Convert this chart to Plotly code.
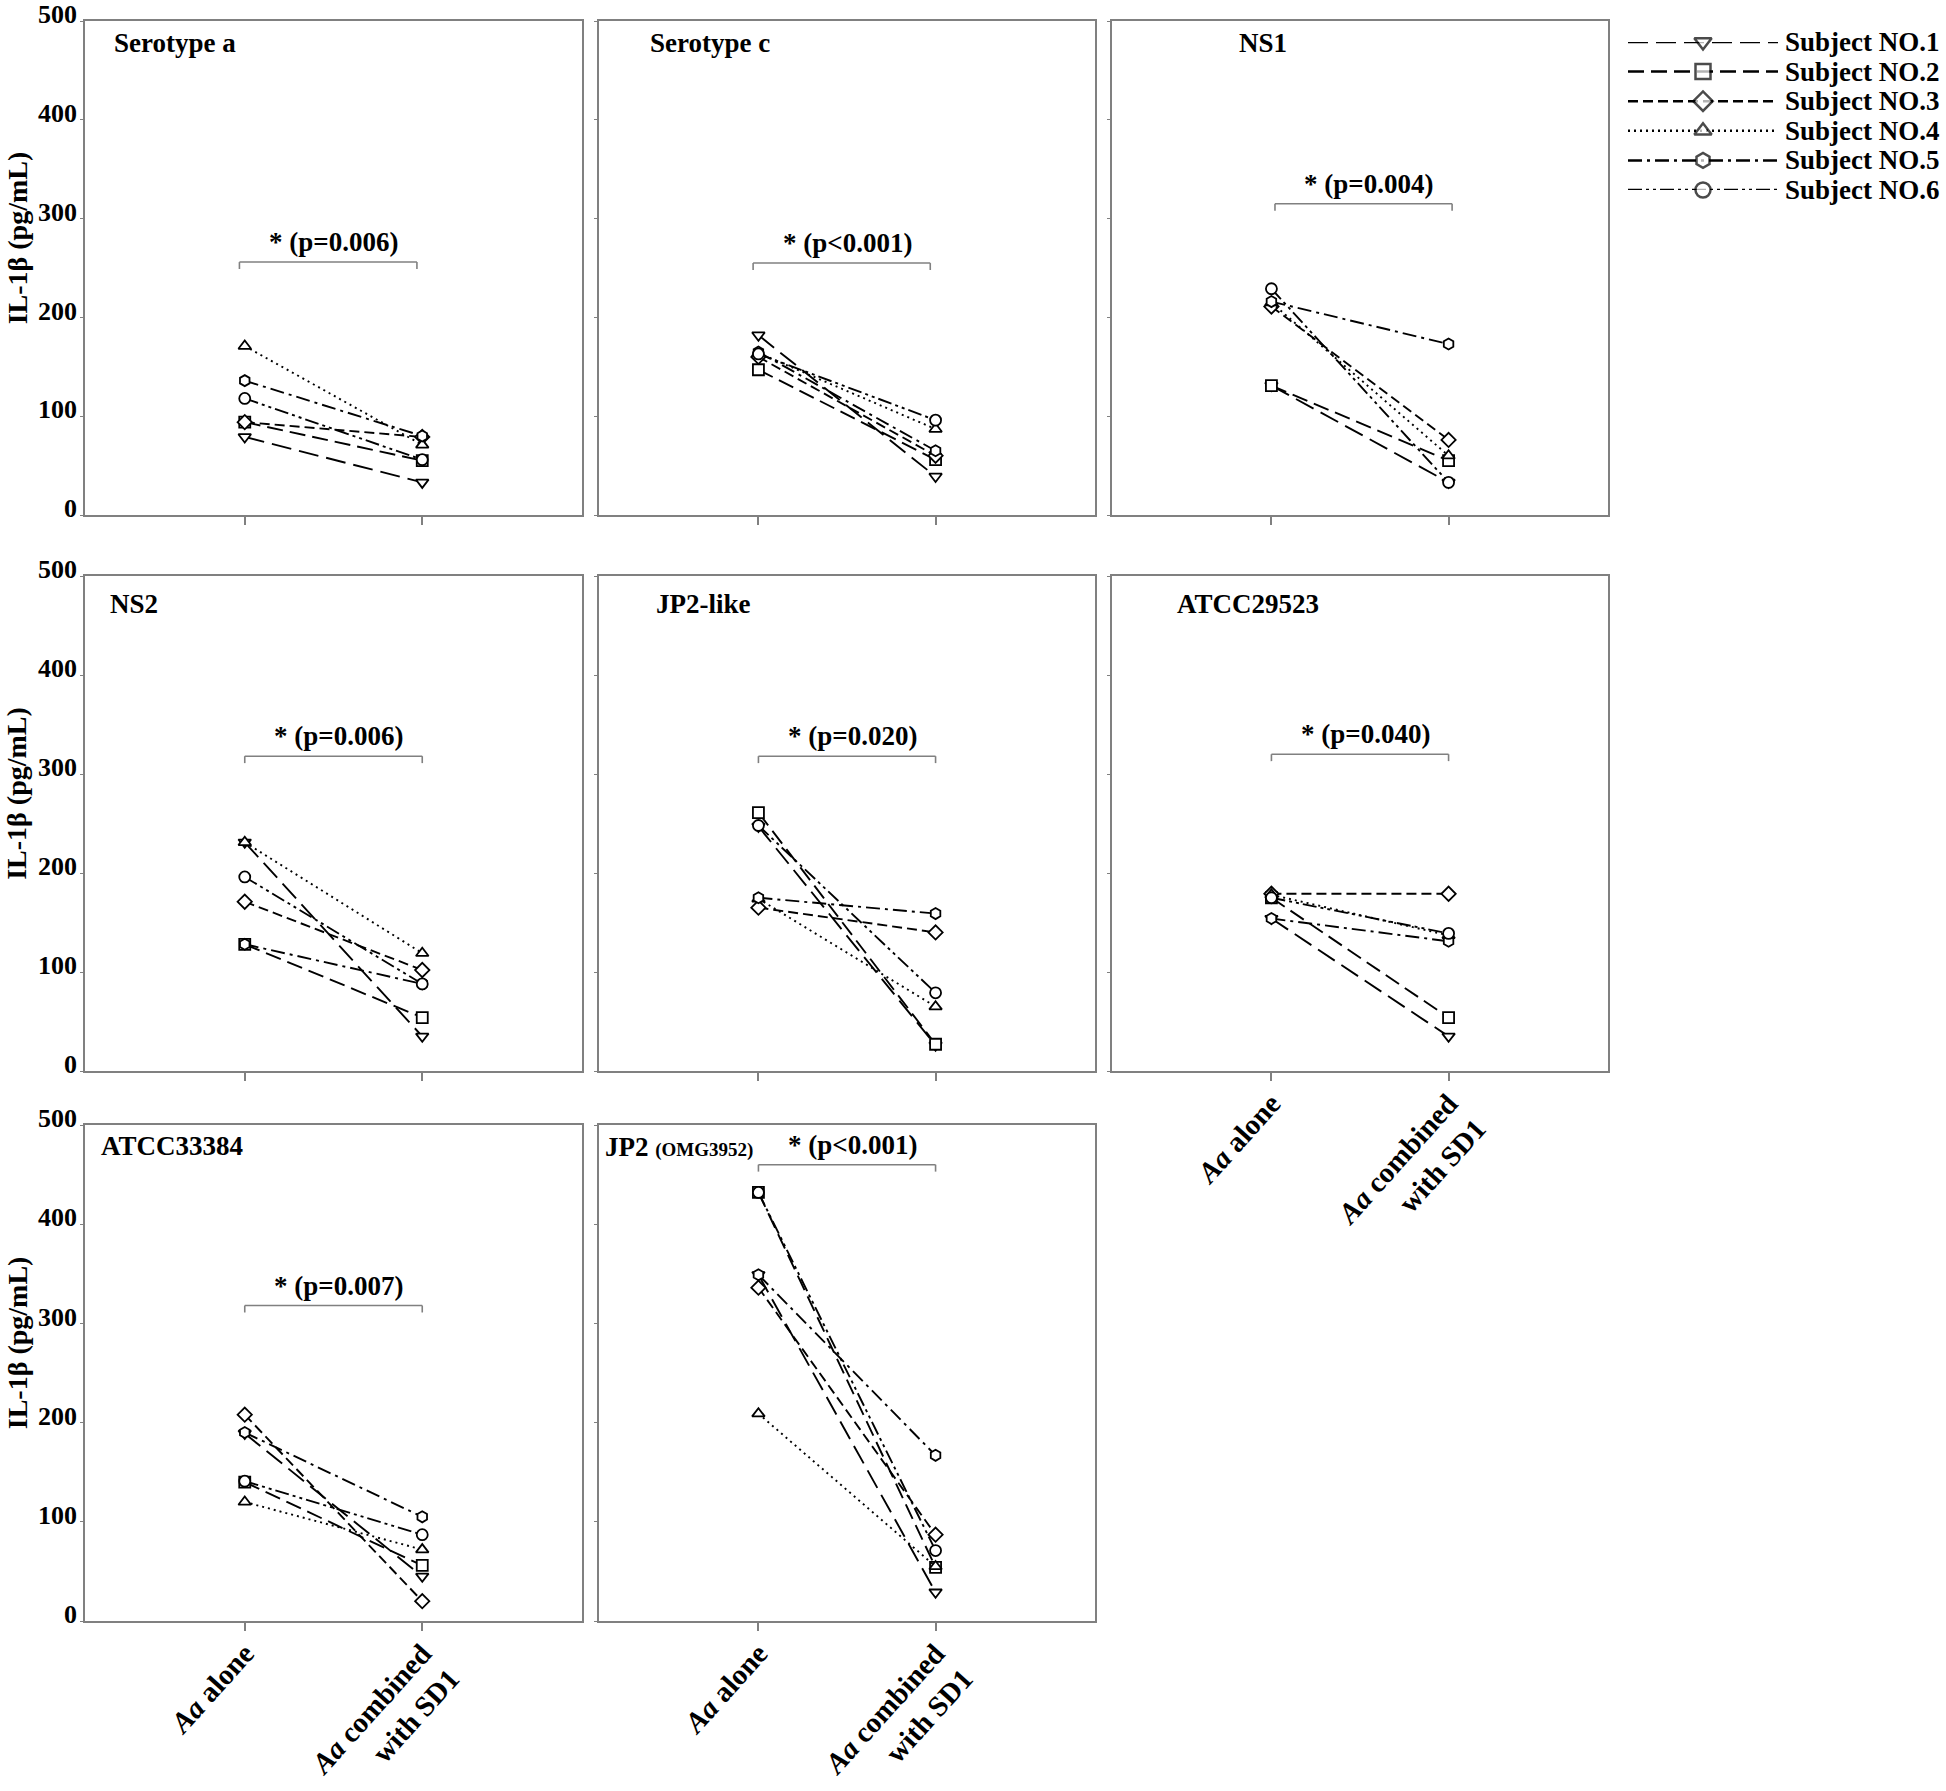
import plotly.graph_objects as go

# ---------------- data ----------------
strains = ["Serotype a", "Serotype c", "NS1", "NS2", "JP2-like",
           "ATCC29523", "ATCC33384", "JP2 (OMG3952)"]
p_labels = ["* (p=0.006)", "* (p<0.001)", "* (p=0.004)", "* (p=0.006)",
            "* (p=0.020)", "* (p=0.040)", "* (p=0.007)", "* (p<0.001)"]
bracket_level = [256, 255, 315, 318, 318, 320, 318, 460]
conditions = ["Aa alone", "Aa combined with SD1"]
subjects = ["Subject NO.1", "Subject NO.2", "Subject NO.3",
            "Subject NO.4", "Subject NO.5", "Subject NO.6"]

# IL-1beta (pg/mL), one value per strain (order as in `strains`)
no1_alone = [79, 182, 131, 231, 247, 154, 189, 349]
no1_sd1 = [33, 39, 33, 35, 26, 35, 45, 29]
no2_alone = [94, 147, 131, 128, 261, 175, 140, 432]
no2_sd1 = [55, 56, 55, 54, 27, 54, 56, 54]
no3_alone = [94, 160, 211, 171, 165, 179, 208, 336]
no3_sd1 = [79, 60, 76, 102, 140, 179, 20, 87]
no4_alone = [171, 164, 215, 231, 174, 178, 120, 209]
no4_sd1 = [71, 87, 60, 119, 65, 137, 72, 55]
no5_alone = [136, 165, 216, 128, 175, 154, 190, 349]
no5_sd1 = [80, 65, 173, 88, 159, 131, 105, 167]
no6_alone = [118, 163, 229, 196, 248, 175, 141, 432]
no6_sd1 = [56, 96, 33, 88, 79, 139, 87, 71]

alone = [no1_alone, no2_alone, no3_alone, no4_alone, no5_alone, no6_alone]
sd1 = [no1_sd1, no2_sd1, no3_sd1, no4_sd1, no5_sd1, no6_sd1]

y_ticks = [0, 100, 200, 300, 400, 500]
y_title = "IL-1β (pg/mL)"

# ---------------- style ----------------
W, H = 1946, 1791
FONT = "Liberation Serif"
AXC = "#808080"
symbols = ["triangle-down", "square", "diamond", "triangle-up", "hexagon", "circle"]
dashes = ["20px,8px", "16px,7px", "10px,5px", "2px,4px",
          "14px,5px,3px,5px", "14px,4px,3px,4px,3px,4px"]

col_px = [(85, 582), (599, 1095), (1112, 1608)]
row_px = [(21, 515), (576, 1071), (1125, 1621)]
panel_rc = [(0, 0), (0, 1), (0, 2), (1, 0), (1, 1), (1, 2), (2, 0), (2, 1)]
show_xlab = [False, False, False, False, False, True, True, True]
title_dx = [0.054, 0.099, 0.252, 0.046, 0.111, 0.127, 0.028, 0.008]
title_y = [0.955, 0.955, 0.955, 0.943, 0.943, 0.943, 0.958, 0.956]
br_x = [(-0.03, 0.97), (-0.03, 0.97), (0.02, 1.02), (0, 1), (0, 1), (0, 1), (0, 1), (0, 1)]
ytitle_frac = 0.56  # vertical position of the y title inside each row (from bottom)

x_pos = list(range(len(conditions)))
x_text = ["<b><i>Aa</i> alone</b>", "<b><i>Aa</i> combined<br>with SD1</b>"]

fig = go.Figure()
layout = dict(width=W, height=H, margin=dict(l=0, r=0, t=0, b=0, autoexpand=False),
              paper_bgcolor="white", plot_bgcolor="white", showlegend=False,
              font=dict(family=FONT, color="black"))
shapes, annots = [], []

for i, name in enumerate(strains):
    r, c = panel_rc[i]
    k = i + 1
    xn = "x" if k == 1 else f"x{k}"
    yn = "y" if k == 1 else f"y{k}"
    for s in range(len(subjects)):
        fig.add_trace(go.Scatter(
            x=x_pos, y=[alone[s][i], sd1[s][i]], xaxis=xn, yaxis=yn,
            mode="lines+markers", cliponaxis=False, name=subjects[s],
            line=dict(color="black", width=1.9, dash=dashes[s]),
            marker=dict(symbol=symbols[s], size=11, color="white",
                        line=dict(color="black", width=1.8))))
    L, R = col_px[c]
    T, B = row_px[r]
    layout["xaxis" if k == 1 else f"xaxis{k}"] = dict(
        domain=[L / W, R / W], anchor=yn, range=[-0.9, 1.9], automargin=False,
        tickvals=x_pos, ticktext=x_text, showticklabels=show_xlab[i],
        tickangle=-48, tickfont=dict(family=FONT, size=29, color="black"),
        ticklabelstandoff=-6,
        ticks="outside", ticklen=8, tickcolor=AXC, tickwidth=1.5,
        showline=True, linecolor=AXC, linewidth=1.8, mirror=True,
        showgrid=False, zeroline=False)
    layout["yaxis" if k == 1 else f"yaxis{k}"] = dict(
        domain=[1 - B / H, 1 - T / H], anchor=xn, range=[0, 500], automargin=False,
        tickvals=y_ticks, showticklabels=(c == 0), ticklabelshift=-7,
        ticklabelstandoff=-2,
        tickfont=dict(family=FONT, size=26, color="black", weight="bold"),
        ticks="outside", ticklen=3, tickcolor=AXC, tickwidth=1.2,
        showline=True, linecolor=AXC, linewidth=1.8, mirror=True,
        showgrid=False, zeroline=False)
    # significance bracket
    x0, x1 = br_x[i]
    yb = bracket_level[i]
    for (a, b, cc, d) in [(x0, yb - 7, x0, yb), (x0, yb, x1, yb), (x1, yb, x1, yb - 7)]:
        shapes.append(dict(type="line", xref=xn, yref=yn, x0=a, y0=b, x1=cc, y1=d,
                           line=dict(color=AXC, width=1.6)))
    annots.append(dict(xref=xn, yref=yn, x=(x0 + x1) / 2 + 0.03, y=yb, yshift=20,
                       text=f"<b>{p_labels[i]}</b>", showarrow=False,
                       font=dict(family=FONT, size=27, color="black")))
    # panel title
    if name.startswith("JP2 ("):
        main, sub = name.split(" ", 1)
        ttxt = f"<b>{main}</b> <span style='font-size:19px'><b>{sub}</b></span>"
    else:
        ttxt = f"<b>{name}</b>"
    annots.append(dict(xref=f"{xn} domain", yref=f"{yn} domain", x=title_dx[i],
                       y=title_y[i], xanchor="left", yanchor="middle", text=ttxt,
                       showarrow=False, font=dict(family=FONT, size=27, color="black")))
    if c == 0:
        annots.append(dict(xref="paper", yref=f"{yn} domain", x=17 / W, y=ytitle_frac,
                           text=f"<b>{y_title}</b>", textangle=-90, showarrow=False,
                           xanchor="center", yanchor="middle",
                           font=dict(family=FONT, size=28, color="black")))

# ---------------- legend (drawn in its own small axis) ----------------
LK = len(strains) + 1
lx, ly = f"x{LK}", f"y{LK}"
for s in range(len(subjects)):
    fig.add_trace(go.Scatter(
        x=[0, 1, 2], y=[s, s, s], xaxis=lx, yaxis=ly, mode="lines+markers",
        cliponaxis=False, name=subjects[s],
        line=dict(color="black", width=2.5, dash=dashes[s]),
        marker=dict(symbol=symbols[s], size=[0, 15, 0], color="white",
                    line=dict(color="black", width=2.5))))
    annots.append(dict(xref=lx, yref=ly, x=2, y=s, xanchor="left", xshift=5,
                       yanchor="middle", text=f"<b>{subjects[s]}</b>", showarrow=False,
                       font=dict(family=FONT, size=27, color="black")))
layout[f"xaxis{LK}"] = dict(domain=[1628 / W, 1778 / W], anchor=ly, range=[0, 2],
                            visible=False, automargin=False)
layout[f"yaxis{LK}"] = dict(domain=[1 - 190 / H, 1 - 42 / H], anchor=lx,
                            range=[len(subjects) - 1, 0], visible=False, automargin=False)

layout["shapes"] = shapes
layout["annotations"] = annots
fig.update_layout(**layout)
fig.write_html("out.html", config={"displayModeBar": False},
               post_script="document.body.style.margin='0px';"
                           "document.body.style.overflow='hidden';")
